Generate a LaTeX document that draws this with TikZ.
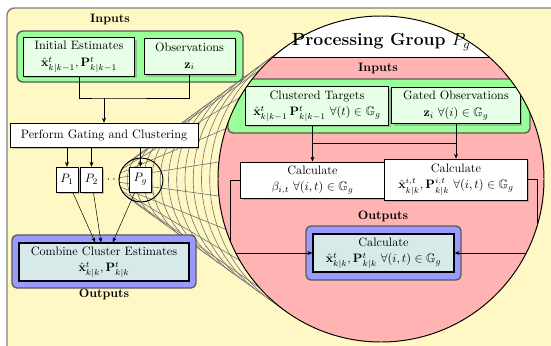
\documentclass[tikz,border=0pt]{standalone}
\usepackage{amsmath,amssymb}
\usetikzlibrary{arrows.meta,calc,shadows}
\definecolor{panelyellow}{RGB}{255,248,196}
\definecolor{inputgreen}{RGB}{153,255,153}
\definecolor{boxgreen}{RGB}{230,255,230}
\definecolor{grppink}{RGB}{255,179,179}
\definecolor{outblue}{RGB}{153,153,255}
\definecolor{boxcyan}{RGB}{214,234,234}

\begin{document}
\begin{tikzpicture}[x=.82pt,y=-.82pt,>={Stealth[length=4pt,width=3.2pt]},
  panel/.style={fill=panelyellow,draw=black!50,line width=1.2pt,rounded corners=6pt},
  band/.style={draw=black!65,line width=1.1pt,rounded corners=4pt},
  shade/.style={drop shadow={shadow xshift=1.3pt,shadow yshift=-1.3pt,opacity=.45}},
  inbox/.style={draw,thick,fill=boxgreen,align=center,inner sep=1pt,shade},
  whitebox/.style={draw,fill=white,align=center,inner sep=1pt,shade},
  outbox/.style={draw,line width=1.1pt,fill=boxcyan,align=center,inner sep=1pt},
  mesh/.style={draw=black!55,line width=.5pt}]
  \useasboundingbox (0,0) rectangle (551,345);
  \clip (0,0) rectangle (551,345);
  \draw[panel] (7,8) rectangle (580,380);

  % inputs of the whole filter
  \node[font=\bfseries] (inlbl) at (110,19) {Inputs};
  \draw[band,fill=inputgreen,rounded corners=5pt] (17,31) rectangle (243,82);
  \node[inbox,minimum width=91.8pt,minimum height=31.2pt] (ie) at (79,57)
    {Initial Estimates\\[1.5pt]$\hat{\mathbf{x}}^t_{k|k-1},\mathbf{P}^t_{k|k-1}$};
  \node[inbox,minimum width=74.6pt,minimum height=30.3pt] (obs) at (189.5,56.5)
    {Observations\\[1.5pt]$\mathbf{z}_i$};

  % funnel from the circled group to the zoomed view
  \coordinate (lensc) at (141,180);
  \coordinate (grpc) at (381,179);
  \foreach \i [evaluate=\i as \r using {22+141*\i/12}] in {1,...,11}
    \draw[mesh] ($(lensc)!\i/12!(grpc)$) ++(126:\r) arc[start angle=126,end angle=234,radius=\r];
  \foreach \a in {126,138,...,234}
    \draw[mesh] ($(lensc)+(\a:22)$) -- ($(grpc)+(\a:163)$);

  \node[whitebox,minimum width=154pt,minimum height=19.7pt] (gate) at (104,135)
    {Perform Gating and Clustering};
  \coordinate (merge) at (104,98);
  \draw (ie.south) |- (merge) -| (obs.south);
  \draw[->] (merge) -- (gate);

  \node[whitebox,minimum width=18pt,minimum height=20.5pt] (p1) at (67,179.5) {$P_1$};
  \node[whitebox,minimum width=18pt,minimum height=20.5pt] (p2) at (91.5,179.5) {$P_2$};
  \node[whitebox,minimum width=18pt,minimum height=20.5pt] (pg) at (140.5,179.5) {$P_g$};
  \node (dots) at (115,180) {$\cdots$};
  \node[circle,draw,thick,minimum size=36pt] (lens) at (lensc) {};
  \foreach \p in {p1,p2,pg} \draw[->] (gate.south -| \p) -- (\p);

  \draw[band,fill=outblue] (12,235) rectangle (196,288);
  \node[outbox,minimum width=139.4pt,minimum height=31.2pt] (ce) at (104,262)
    {Combine Cluster Estimates\\[1.5pt]$\hat{\mathbf{x}}^t_{k|k},\mathbf{P}^t_{k|k}$};
  \node[font=\bfseries] (outlbl) at (104,294) {Outputs};
  \foreach \p in {p1,p2,pg} \draw[->] (\p) -- (ce);

  % processing group P_g
  \fill[grppink] (grpc) circle[radius=163];
  \begin{scope}
    \clip (grpc) circle[radius=163];
    \fill[white] (200,0) rectangle (560,57);
    \draw (200,57) -- (560,57);
    \draw[band,fill=inputgreen] (228,79) rectangle (530,133);
    \node[inbox,minimum width=118pt,minimum height=31.2pt] (ct) at (317,106)
      {Clustered Targets\\[1.5pt]$\hat{\mathbf{x}}^t_{k|k-1}\,\mathbf{P}^t_{k|k-1}\ \forall(t)\in\mathbb{G}_g$};
    \node[inbox,minimum width=105pt,minimum height=30.3pt] (go) at (456,105.5)
      {Gated Observations\\[1.5pt]$\mathbf{z}_i\ \forall(i)\in\mathbb{G}_g$};
    \node[whitebox,thick,minimum width=117.3pt,minimum height=29.5pt] (cb) at (312.5,180)
      {Calculate\\[1.5pt]$\beta_{i,t}\ \forall(i,t)\in\mathbb{G}_g$};
    \node[whitebox,thick,minimum width=117.3pt,minimum height=33.6pt] (cx) at (456,179.5)
      {Calculate\\[1.5pt]$\hat{\mathbf{x}}^{i,t}_{k|k},\mathbf{P}^{i,t}_{k|k}\ \forall(i,t)\in\mathbb{G}_g$};
    \coordinate (split) at (381,143);
    \draw[->] (cb |- ct.south) -- (cb);
    \draw[->] (go) -- (cx);
    \draw (cb |- split) -- (cx |- split);
    \node[font=\bfseries] (outlbl2) at (383,216) {Outputs};
    \draw[band,fill=outblue] (306,226) rectangle (461,280);
    \node[outbox,minimum width=115.6pt,minimum height=31.2pt] (out) at (383.5,253)
      {Calculate\\[1.5pt]$\hat{\mathbf{x}}^t_{k|k},\mathbf{P}^t_{k|k}\ \forall(i,t)\in\mathbb{G}_g$};
    \draw[->] (cb.west) -- ++(-10,0) |- (out.west);
    \draw[->] (cx.east) -- ++(9,0) |- (out.east);
  \end{scope}
  \draw[thick] (grpc) circle[radius=163];
  \node[font=\Large\bfseries] (title) at (381,42) {Processing Group $P_g$};
  \node[font=\bfseries] (inlbl2) at (378,68) {Inputs};
\end{tikzpicture}
\end{document}
